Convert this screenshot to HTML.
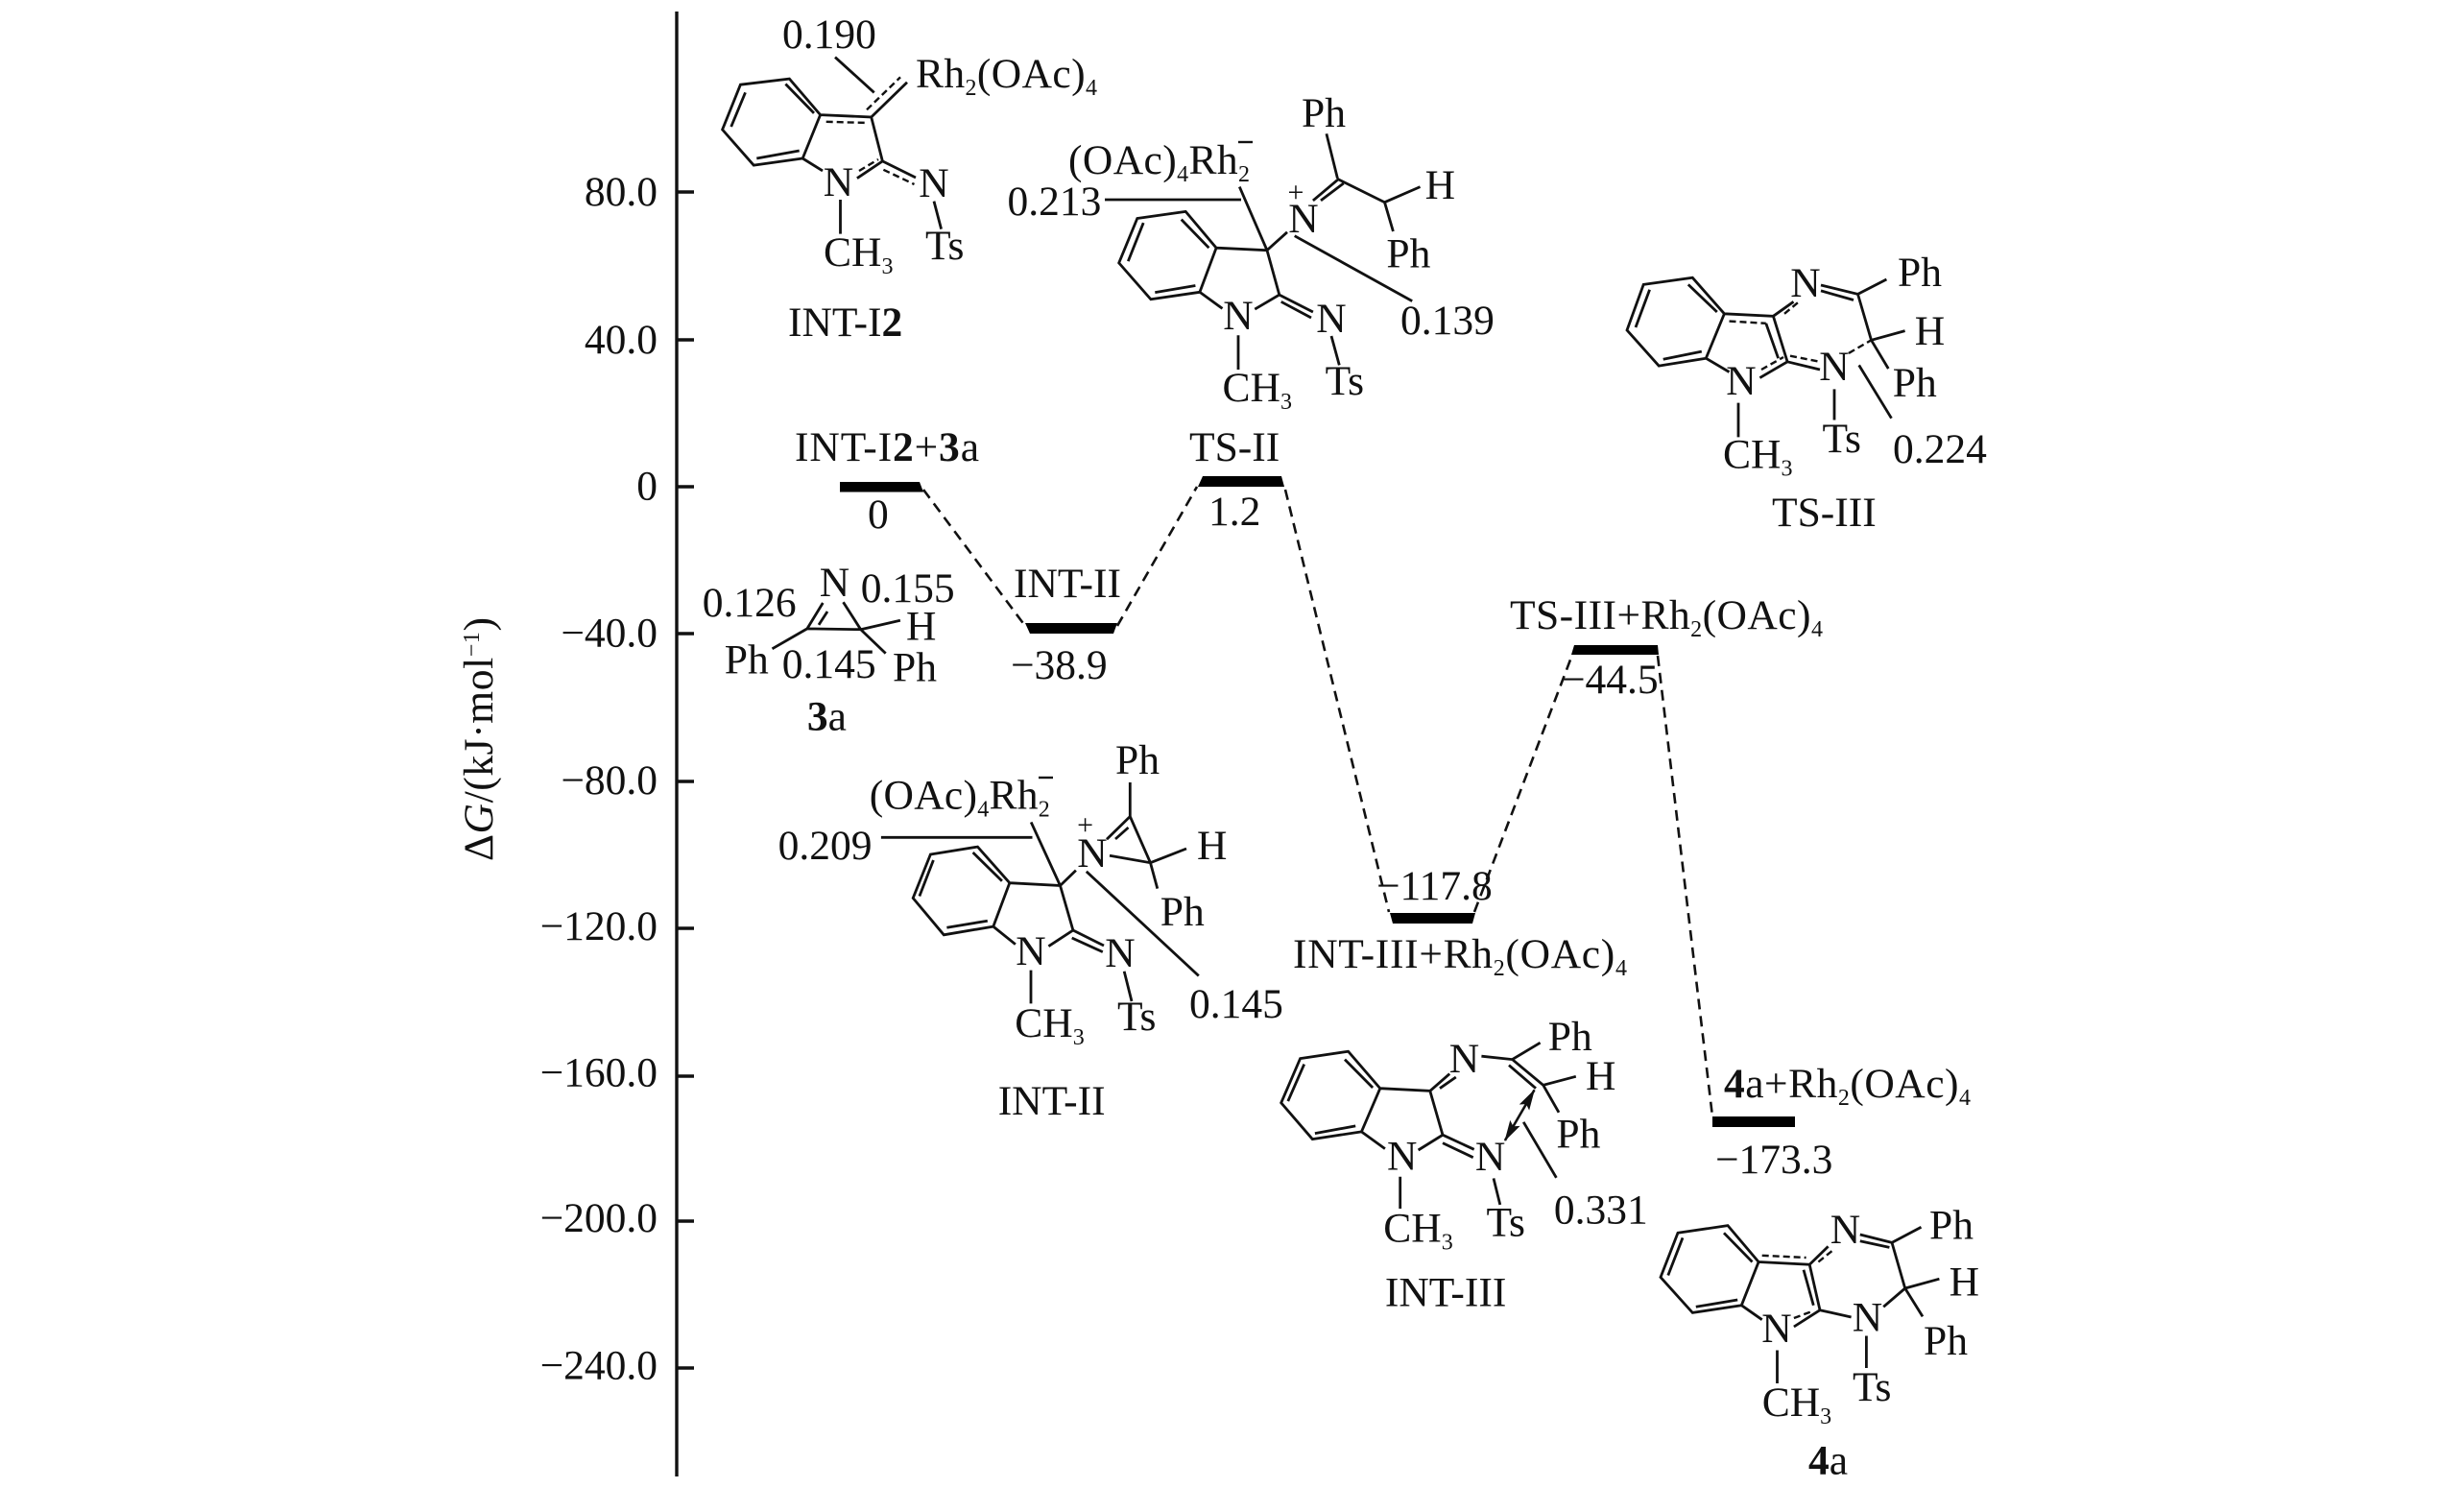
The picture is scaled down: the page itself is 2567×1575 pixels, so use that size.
<!DOCTYPE html>
<html><head><meta charset="utf-8"><style>
html,body{margin:0;padding:0;background:#fff}
svg{display:block}
text{font-family:"Liberation Serif",serif;font-size:43.5px;fill:#111}
.s{font-size:24px}
.b{font-weight:700}
.l{fill:none;stroke:#111;stroke-width:2.8;stroke-linecap:butt}
.d{fill:none;stroke:#111;stroke-width:2.4;stroke-dasharray:7 4}
.e{fill:none;stroke:#111;stroke-width:2.6;stroke-dasharray:11 7}
</style></head><body>
<svg width="2567" height="1575" viewBox="0 0 2567 1575" xmlns="http://www.w3.org/2000/svg">
<defs>
<marker id="ah" viewBox="0 0 22 12" refX="21" refY="6" markerWidth="22" markerHeight="12" markerUnits="userSpaceOnUse" orient="auto-start-reverse"><path d="M0 0L22 6L0 12L4 6Z" fill="#111"/></marker>
</defs>
<!-- axis -->
<path d="M705 12V1538" fill="none" stroke="#111" stroke-width="3.4"/>
<path d="M705 200H723M705 354H723M705 507H723M705 660H723M705 814H723M705 967H723M705 1121H723M705 1272H723M705 1425H723" fill="none" stroke="#111" stroke-width="3.4"/>
<g text-anchor="end">
<text x="685" y="214">80.0</text>
<text x="685" y="368">40.0</text>
<text x="685" y="520.7">0</text>
<text x="685" y="673.4">−40.0</text>
<text x="685" y="827">−80.0</text>
<text x="685" y="979">−120.0</text>
<text x="685" y="1131.7">−160.0</text>
<text x="685" y="1283">−200.0</text>
<text x="685" y="1436.7">−240.0</text>
</g>
<text transform="translate(513,897) rotate(-90)" textLength="254">Δ<tspan font-style="italic">G</tspan>/(kJ·mol<tspan class="s" dy="-14">−1</tspan><tspan dy="14">)</tspan></text>

<!-- energy levels -->
<path d="M875 502H958L962 512.5H875Z" fill="#000"/>
<path d="M1068 649H1164L1160 660H1073Z" fill="#000"/>
<path d="M1253 496H1335L1338 507H1248Z" fill="#000"/>
<path d="M1448 951H1537L1534 962H1451Z" fill="#000"/>
<path d="M1640 672H1727L1728 682H1637Z" fill="#000"/>
<path d="M1784 1163H1870V1174H1784Z" fill="#000"/>
<!-- dashed connectors -->
<path class="e" d="M962 510L1068 652M1164 652L1247 507M1339 510L1447 950M1536 950L1638 682M1727 683L1784 1163"/>

<!-- level labels -->
<text x="828" y="480" textLength="192">INT-I<tspan class="b">2</tspan>+<tspan class="b">3</tspan>a</text>
<text x="904" y="550">0</text>
<text x="1239" y="480">TS-II</text>
<text x="1259" y="547">1.2</text>
<text x="1056" y="622">INT-II</text>
<text x="1053" y="707">−38.9</text>
<text x="1573" y="655" textLength="326">TS-III+Rh<tspan class="s" dy="8">2</tspan><tspan dy="-8">(OAc)</tspan><tspan class="s" dy="8">4</tspan></text>
<text x="1627" y="722">−44.5</text>
<text x="1434" y="937">−117.8</text>
<text x="1347" y="1008" textLength="348">INT-III+Rh<tspan class="s" dy="8">2</tspan><tspan dy="-8">(OAc)</tspan><tspan class="s" dy="8">4</tspan></text>
<text x="1796" y="1143" textLength="257"><tspan class="b">4</tspan>a+Rh<tspan class="s" dy="8">2</tspan><tspan dy="-8">(OAc)</tspan><tspan class="s" dy="8">4</tspan></text>
<text x="1787" y="1222">−173.3</text>

<!-- INT-I2 -->
<path class="l" d="M771.4 88.2L822.4 82.1L854.6 119.6L836.2 165L785.2 172.1L752.6 135ZM761.7 132L776.5 96.4M818.4 87.5L848 117.9M788.3 165L832.7 157M854.6 119.6L907.7 122L919.4 167.9L892.9 185.7M836.2 165L857 177.9M919.4 167.9L954 185M907.7 122L945 85.7M875.5 208V243.6M973 209.6L980.6 238.6M870 59.6L910.7 96.4"/>
<path class="d" d="M860.7 126.8L901.5 127.9M920.4 176.8L952.5 192M903 114.3L938 80.4M895 178L915 166"/>
<text x="873.5" y="204" text-anchor="middle">N</text>
<text x="973" y="205" text-anchor="middle">N</text>
<text x="858" y="277">CH<tspan class="s" dy="8">3</tspan></text>
<text x="964" y="270">Ts</text>
<text x="954" y="91" textLength="189">Rh<tspan class="s" dy="8">2</tspan><tspan dy="-8">(OAc)</tspan><tspan class="s" dy="8">4</tspan></text>
<text x="815" y="50">0.190</text>
<text x="821" y="350">INT-I<tspan class="b">2</tspan></text>

<!-- TS-II -->
<path class="l" d="M1184.8 227.5L1235.2 220.4L1267.1 258.2L1249.9 304.3L1198.9 311.8L1165.7 273.9ZM1175.3 272.1L1191.2 232.1M1230.7 228.6L1259.4 258.2M1203.3 304.6L1245.4 297.5M1267.1 258.2L1320 260.7L1332.8 307.1L1307.3 322.1M1249.9 304.3L1273.5 321.4M1332.8 307.1L1367.9 325M1334.7 314.3L1366 331M1290 349.3V385M1387 350L1395.3 380.4M1320 260.7L1341 241.8M1320 260.7L1291.3 194.6M1151 208H1293M1367.9 208.9L1394.6 186.4M1376 208.9L1399.7 191M1393.4 185.7L1381.9 139.3M1393.4 186.4L1442.5 210.7L1479.5 194.6M1442.5 210.7L1451.4 241M1348.7 245.7L1471.2 313.6"/>
<text x="1290" y="343" text-anchor="middle">N</text>
<text x="1387" y="346" text-anchor="middle">N</text>
<text x="1273.5" y="418">CH<tspan class="s" dy="8">3</tspan></text>
<text x="1380.6" y="411">Ts</text>
<text x="1358" y="242" text-anchor="middle">N</text>
<text x="1350" y="210" text-anchor="middle" style="font-size:30px">+</text>
<text x="1113" y="181" textLength="189">(OAc)<tspan class="s" dy="8">4</tspan><tspan dy="-8">Rh</tspan><tspan class="s" dy="8">2</tspan></text>
<path d="M1290 148H1305" stroke="#111" stroke-width="2.4"/>
<text x="1049.5" y="224">0.213</text>
<text x="1356" y="132">Ph</text>
<text x="1484.6" y="207">H</text>
<text x="1444.4" y="278.6">Ph</text>
<text x="1459" y="348">0.139</text>

<!-- TS-III -->
<path class="l" d="M1712.2 296.4L1763.3 289.3L1796.4 326.8L1777.3 373.2L1728.2 381.1L1695 343.9ZM1704 341L1718.6 301.8M1758.8 296.4L1788.8 325M1732.7 374.3L1772.8 366.1M1796.4 326.8L1847.4 329.3L1862.1 376.8L1833.4 393.6M1839.8 336.8L1852.6 373.2M1777.3 373.2L1801.5 387.5M1811 419.6V455.4M1862.1 376.8L1896 385M1911 405.4V437.5M1949.5 354.3L1935.5 306.4L1897 297M1931 312.5L1897 302.9M1847.4 329.3L1868.5 314.3M1935.5 306.4L1965.4 291M1949.5 354.3L1984.6 344.6M1949.5 354.3L1967.3 384M1936.7 380.4L1970.5 435.7"/>
<path class="d" d="M1801.5 334.6L1839.8 336.8M1835 385L1858 372M1865 370.7L1896 376.8M1926 367.9L1949.5 354.3M1859 326.8L1875 313.6"/>
<text x="1814" y="411" text-anchor="middle">N</text>
<text x="1911" y="396" text-anchor="middle">N</text>
<text x="1881" y="309" text-anchor="middle">N</text>
<text x="1795" y="487.5">CH<tspan class="s" dy="8">3</tspan></text>
<text x="1898.5" y="471">Ts</text>
<text x="1977" y="298">Ph</text>
<text x="1994.8" y="359">H</text>
<text x="1971.8" y="413">Ph</text>
<text x="1972" y="482">0.224</text>
<text x="1846" y="548">TS-III</text>

<!-- 3a -->
<path class="l" d="M840.9 654.9L896.7 655.7L878.5 627.2M840.9 654.9L857.3 628M853 650.9L862 637M896.7 655.7L937.9 646.2M840.9 654.9L804.5 675.8M896.7 655.7L922.7 680.6"/>
<text x="869.4" y="621" text-anchor="middle">N</text>
<text x="731.8" y="642">0.126</text>
<text x="896.7" y="627">0.155</text>
<text x="944" y="666.7">H</text>
<text x="754.8" y="701.5">Ph</text>
<text x="930" y="709.4">Ph</text>
<text x="814.8" y="706">0.145</text>
<text x="840.9" y="760.4"><tspan class="b">3</tspan>a</text>

<!-- INT-II -->
<path class="l" d="M969.4 890L1018.5 882.1L1051.8 919.7L1034.8 965.1L983.3 973.8L951.2 935.5ZM957.9 933.5L972.4 896M1013.6 888L1043.9 917.7M986.4 966.3L1028.8 959.2M1051.8 919.7L1104.5 922.5L1117.9 969L1092.4 985.7M1034.8 965.1L1057.9 983.7M1117.9 969L1150 985M1116.7 977L1148.8 991.6M1074 1010.6V1045.4M1171.2 1011.8L1179 1043M1104.5 922.5L1120.9 906.6M1104.5 922.5L1074.2 856.4M917.9 872.3H1075.5M1153 874.2L1177.3 850.5M1162 874L1175.5 862M1177.3 850.5V815M1177.3 850.5L1198.5 898.7M1156 891.2L1198.5 898.7L1236 884M1198.5 898.7L1205.8 925.6M1131.8 907.8L1248.8 1016.5"/>
<text x="1074" y="1005" text-anchor="middle">N</text>
<text x="1167" y="1007" text-anchor="middle">N</text>
<text x="1138" y="903" text-anchor="middle">N</text>
<text x="1130.6" y="869" text-anchor="middle" style="font-size:30px">+</text>
<text x="1057.3" y="1080">CH<tspan class="s" dy="8">3</tspan></text>
<text x="1164" y="1073">Ts</text>
<text x="810.6" y="895">0.209</text>
<text x="905.8" y="842.6" textLength="188">(OAc)<tspan class="s" dy="8">4</tspan><tspan dy="-8">Rh</tspan><tspan class="s" dy="8">2</tspan></text>
<path d="M1082 810H1097" stroke="#111" stroke-width="2.4"/>
<text x="1162" y="806">Ph</text>
<text x="1247" y="895">H</text>
<text x="1208.8" y="964">Ph</text>
<text x="1239" y="1060">0.145</text>
<text x="1039.7" y="1161">INT-II</text>

<!-- INT-III -->
<path class="l" d="M1354.6 1102.6L1404.6 1095.2L1437.8 1133.7L1418.4 1178.9L1367.3 1186.6L1334.7 1148.8ZM1341.8 1147.1L1358.7 1108.6M1401 1103.6L1430.1 1133M1369.9 1180.6L1412.2 1172.9M1437.8 1133.7L1489.8 1136.4L1503 1182.2L1477.6 1198M1489.8 1136.4L1510.2 1118.6M1500 1133.7L1516.8 1122M1543.4 1100.2L1575.5 1103.6L1604.6 1086.2M1575.5 1103.6L1607.7 1130.3L1641.8 1121.3M1572 1109.6L1600 1133.7M1607.7 1130.3L1624 1158.8M1418.4 1178.9L1442.9 1196.6M1503 1182.2L1535.7 1197.3M1503 1190.6L1534.7 1205.7M1458.7 1225.8V1259M1556 1227.4L1562.8 1254.9M1587.2 1168.8L1621.4 1226.8"/>
<path d="M1598.5 1135.4L1567.9 1188" fill="none" stroke="#111" stroke-width="2.6" marker-start="url(#ah)" marker-end="url(#ah)"/>
<text x="1525.5" y="1117" text-anchor="middle">N</text>
<text x="1460.7" y="1218.4" text-anchor="middle">N</text>
<text x="1552.6" y="1219" text-anchor="middle">N</text>
<text x="1612.8" y="1094">Ph</text>
<text x="1652" y="1135">H</text>
<text x="1621.4" y="1195.6">Ph</text>
<text x="1441.3" y="1293.7">CH<tspan class="s" dy="8">3</tspan></text>
<text x="1548.5" y="1287.7">Ts</text>
<text x="1618.9" y="1274.3">0.331</text>
<text x="1442.9" y="1360.7">INT-III</text>

<!-- 4a -->
<path class="l" d="M1748 1284.3L1800 1276.6L1832.1 1314.5L1814.3 1359.7L1763.3 1367.4L1730 1330.5ZM1737.8 1328.5L1753 1289.4M1796 1284.3L1825.5 1314.5M1766.8 1361.3L1810.2 1354M1832.1 1314.5L1885.2 1317.2L1896 1364.7L1868.9 1382M1879 1322.8L1889.3 1359.7M1885.2 1317.2L1904.6 1298.4M1937.8 1286L1971 1294.4L2001.5 1278.3M1937.8 1292.7L1968.4 1299.4M1971 1294.4L1984.7 1342L2020.4 1332.2M1984.7 1342L2003 1371.4M1984.7 1342L1962.2 1361.3M1896 1364.7L1928.6 1372M1814.3 1359.7L1835.7 1374.7M1851.5 1406.5V1441M1944.4 1391.5V1425"/>
<path class="d" d="M1835.7 1307.8L1881.6 1310M1894.4 1314.5L1911.2 1301M1868.9 1373L1886.7 1366.4"/>
<text x="1922.4" y="1295" text-anchor="middle">N</text>
<text x="1945.4" y="1386.5" text-anchor="middle">N</text>
<text x="1851" y="1398" text-anchor="middle">N</text>
<text x="2010" y="1290.4">Ph</text>
<text x="2030.6" y="1349.6">H</text>
<text x="2004" y="1411">Ph</text>
<text x="1835.7" y="1475">CH<tspan class="s" dy="8">3</tspan></text>
<text x="1930" y="1459">Ts</text>
<text x="1884" y="1535.4"><tspan class="b">4</tspan>a</text>
</svg>
</body></html>
